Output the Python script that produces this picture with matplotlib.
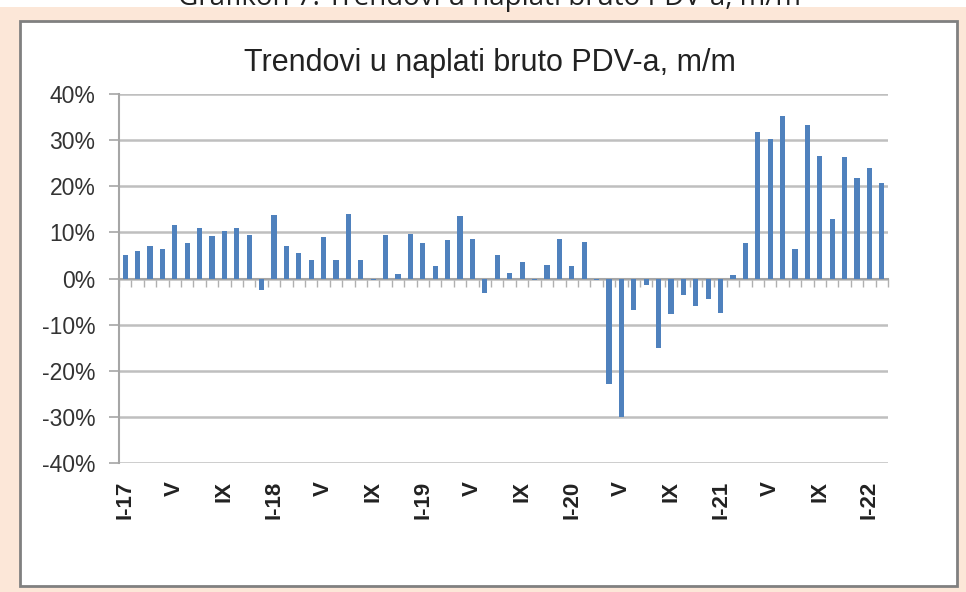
import matplotlib.pyplot as plt
from matplotlib.patches import Rectangle
from matplotlib.ticker import PercentFormatter, FixedLocator

plt.rcParams['font.family'] = ['Liberation Sans', 'DejaVu Sans']
plt.rcParams['axes.unicode_minus'] = False

# mjesecne stope, I-17 .. II-22
vals_2017 = [5.1, 5.9, 7.0, 6.5, 11.6, 7.7, 11.0, 9.3, 10.4, 11.0, 9.5, -2.5]
vals_2018 = [13.8, 7.0, 5.5, 4.1, 9.1, 4.1, 14.0, 4.1, -0.3, 9.4, 0.9, 9.6]
vals_2019 = [7.7, 2.7, 8.3, 13.6, 8.5, -3.1, 5.2, 1.3, 3.6, -0.3, 3.0, 8.6]
vals_2020 = [2.8, 8.0, -0.3, -22.9, -30.0, -6.8, -1.5, -15.1, -7.7, -3.6, -5.9, -4.5]
vals_2021 = [-7.5, 0.7, 7.7, 31.7, 30.3, 35.3, 6.4, 33.3, 26.6, 13.0, 26.3, 21.7]
vals_2022 = [24.0, 20.6]
values = vals_2017 + vals_2018 + vals_2019 + vals_2020 + vals_2021 + vals_2022

tick_labels = ['I-17', 'V', 'IX', 'I-18', 'V', 'IX', 'I-19', 'V', 'IX',
               'I-20', 'V', 'IX', 'I-21', 'V', 'IX', 'I-22']
y_ticks = [-40, -30, -20, -10, 0, 10, 20, 30, 40]

W, H = 966, 592
fig = plt.figure(figsize=(W / 100, H / 100), dpi=100)
fig.patch.set_facecolor('white')

# pozadina i okvir
fig.patches.append(Rectangle((0, 0), 1, 1 - 7 / H, transform=fig.transFigure,
                             facecolor='#fce7d8', edgecolor='none', zorder=-3))
fig.patches.append(Rectangle((20 / W, 1 - 586 / H), 937 / W, 565 / H,
                             transform=fig.transFigure, facecolor='white',
                             edgecolor='#808080', linewidth=2, zorder=-2))
fig.text(489 / W, 1 - 5 / H, 'Grafikon 7: Trendovi u naplati bruto PDV-a, m/m',
         ha='center', va='baseline', fontsize=20, family='Open Sans', color='#222222')

ax = fig.add_axes([119 / W, 1 - 463 / H, (888 - 119) / W, (463 - 94) / H])
ax.set_facecolor('none')

x = list(range(len(values)))
ax.bar(x, values, width=0.42, color='#4f81bd', zorder=3)

ax.set_xlim(-0.5, len(values) - 0.5)
ax.set_ylim(-40, 40)
ax.set_yticks(y_ticks)
ax.yaxis.set_major_formatter(PercentFormatter(decimals=0))
ax.grid(axis='y', color='#bfbfbf', linewidth=1.8, zorder=0)
ax.tick_params(axis='y', direction='out', length=7, color='#a6a6a6', width=1.2,
               labelsize=16.5, labelcolor='#333333', pad=10)

for s in ['top', 'right']:
    ax.spines[s].set_visible(False)
ax.spines['left'].set_color('#a6a6a6')
ax.spines['left'].set_linewidth(1.5)
ax.spines['bottom'].set_position(('data', 0))
ax.spines['bottom'].set_color('#a6a6a6')
ax.spines['bottom'].set_linewidth(1.5)

# kvacice na nultoj liniji izmedju mjeseci
ax.xaxis.set_major_locator(FixedLocator([i - 0.5 for i in range(len(values) + 1)]))
ax.tick_params(axis='x', direction='out', length=6, color='#b0b0b0', width=1,
               labelbottom=False)

sec = ax.secondary_xaxis('bottom')
sec.set_xticks(list(range(0, len(tick_labels) * 4, 4)), tick_labels)
sec.tick_params(length=0, labelsize=16, labelcolor='#222222', pad=13, labelrotation=90)
for lab in sec.get_xticklabels():
    lab.set_fontweight('bold')
sec.spines['bottom'].set_visible(False)

fig.text(490 / W, 1 - 63 / H, 'Trendovi u naplati bruto PDV-a, m/m',
         ha='center', va='center', fontsize=22, color='#222222')

fig.savefig('out.png', dpi=100)
